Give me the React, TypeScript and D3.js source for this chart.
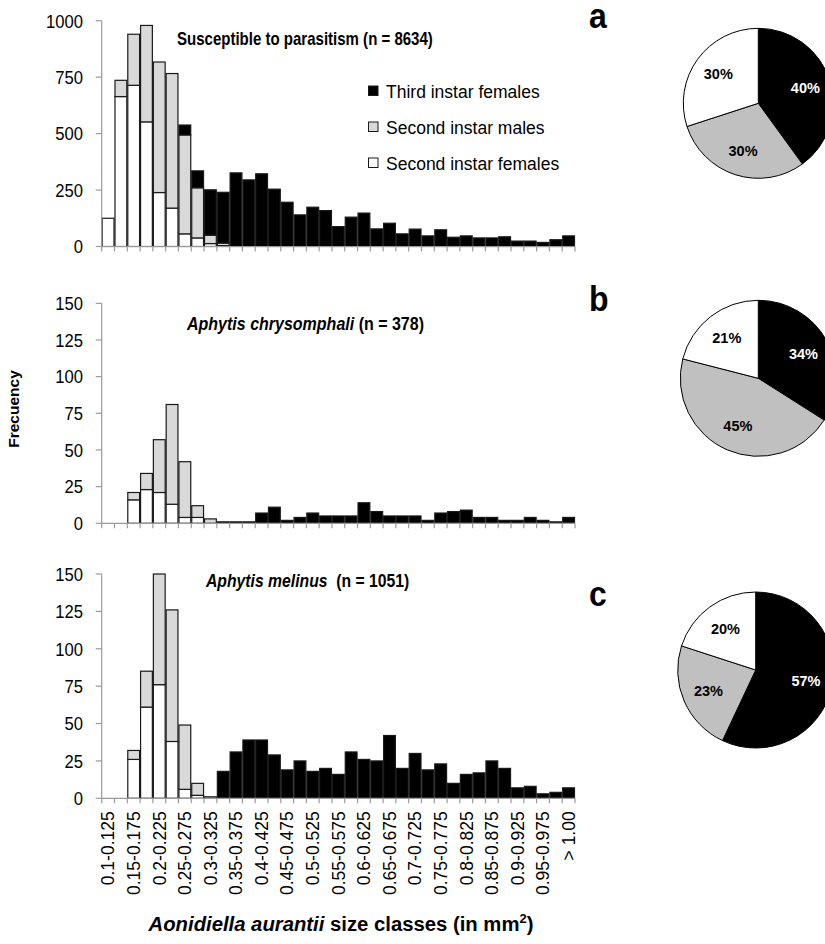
import React from "react";
import * as d3 from "d3";

const sizeClasses = [
  "0.1-0.125", "0.125-0.15", "0.15-0.175", "0.175-0.2", "0.2-0.225", "0.225-0.25",
  "0.25-0.275", "0.275-0.3", "0.3-0.325", "0.325-0.35", "0.35-0.375", "0.375-0.4",
  "0.4-0.425", "0.425-0.45", "0.45-0.475", "0.475-0.5", "0.5-0.525", "0.525-0.55",
  "0.55-0.575", "0.575-0.6", "0.6-0.625", "0.625-0.65", "0.65-0.675", "0.675-0.7",
  "0.7-0.725", "0.725-0.75", "0.75-0.775", "0.775-0.8", "0.8-0.825", "0.825-0.85",
  "0.85-0.875", "0.875-0.9", "0.9-0.925", "0.925-0.95", "0.95-0.975", "0.975-1.00",
  "> 1.00",
];

// Panel a: susceptible to parasitism
const aSecondFemales = [125, 664, 714, 552, 239, 170, 56, 38, 13, 4, 0, 0, 0, 0, 0, 0, 0, 0, 0, 0, 0, 0, 0, 0, 0, 0, 0, 0, 0, 0, 0, 0, 0, 0, 0, 0, 0];
const aSecondMales = [0, 72, 226, 427, 578, 596, 438, 222, 37, 11, 0, 0, 0, 0, 0, 0, 0, 0, 0, 0, 0, 0, 0, 0, 0, 0, 0, 0, 0, 0, 0, 0, 0, 0, 0, 0, 0];
const aThirdFemales = [0, 0, 0, 0, 0, 0, 44, 75, 201, 225, 326, 295, 322, 254, 196, 140, 174, 159, 88, 130, 148, 78, 103, 56, 77, 47, 74, 41, 47, 38, 38, 43, 24, 24, 18, 30, 47];

// Panel b: Aphytis chrysomphali
const bSecondFemales = [0, 0, 16, 23, 21, 13, 4, 4, 0, 0, 0, 0, 0, 0, 0, 0, 0, 0, 0, 0, 0, 0, 0, 0, 0, 0, 0, 0, 0, 0, 0, 0, 0, 0, 0, 0, 0];
const bSecondMales = [0, 0, 5, 11, 36, 68, 38, 8, 3, 0, 0, 0, 0, 0, 0, 0, 0, 0, 0, 0, 0, 0, 0, 0, 0, 0, 0, 0, 0, 0, 0, 0, 0, 0, 0, 0, 0];
const bThirdFemales = [0, 0, 0, 0, 0, 0, 0, 0, 0, 1, 1, 1, 7, 11, 2, 4, 7, 5, 5, 5, 14, 8, 5, 5, 5, 2, 7, 8, 9, 4, 4, 2, 2, 4, 2, 1, 4];

// Panel c: Aphytis melinus
const cSecondFemales = [0, 0, 26, 61, 76, 38, 6, 2, 1, 0, 0, 0, 0, 0, 0, 0, 0, 0, 0, 0, 0, 0, 0, 0, 0, 0, 0, 0, 0, 0, 0, 0, 0, 0, 0, 0, 0];
const cSecondMales = [0, 0, 6, 24, 74, 88, 43, 8, 0, 0, 0, 0, 0, 0, 0, 0, 0, 0, 0, 0, 0, 0, 0, 0, 0, 0, 0, 0, 0, 0, 0, 0, 0, 0, 0, 0, 0];
const cThirdFemales = [0, 0, 0, 0, 0, 0, 0, 0, 0, 18, 31, 39, 39, 29, 19, 25, 18, 20, 16, 31, 26, 25, 42, 20, 30, 19, 23, 10, 16, 17, 25, 20, 7, 8, 3, 4, 7];

// Pie shares (third instar females, second instar males, second instar females)
const pieA = [40, 30, 30];
const pieB = [34, 45, 21];
const pieC = [57, 23, 20];

const ticksA = [0, 250, 500, 750, 1000];
const ticksBC = [0, 25, 50, 75, 100, 125, 150];

const legendLabels = ["Third instar females", "Second instar males", "Second instar females"];
const panelLetters = ["a", "b", "c"];

const FONT = "'Liberation Sans', Arial, Helvetica, sans-serif";
const BAR_FILL = { f3: "#000000", m2: "#d9d9d9", f2: "#ffffff" } as Record<string, string>;
const LEGEND_FILL = ["#000000", "#d9d9d9", "#ffffff"];
const PIE_FILL = ["#000000", "#c0c0c0", "#ffffff"];
const PIE_TEXT = ["#ffffff", "#000000", "#000000"];
const AXIS = "#9a9a9a";

type PanelDef = {
  f2: number[]; m2: number[]; f3: number[];
  max: number; ticks: number[]; top: number; bottom: number;
  pie: number[]; pieCx: number; pieCy: number; pieR: number;
  letterY: number;
};

const panels: PanelDef[] = [
  { f2: aSecondFemales, m2: aSecondMales, f3: aThirdFemales, max: 1000, ticks: ticksA, top: 20.7, bottom: 246.5, pie: pieA, pieCx: 758.3, pieCy: 103.3, pieR: 75, letterY: 28 },
  { f2: bSecondFemales, m2: bSecondMales, f3: bThirdFemales, max: 150, ticks: ticksBC, top: 303.3, bottom: 523.3, pie: pieB, pieCx: 758.3, pieCy: 378.3, pieR: 78, letterY: 311 },
  { f2: cSecondFemales, m2: cSecondMales, f3: cThirdFemales, max: 150, ticks: ticksBC, top: 574, bottom: 798.3, pie: pieC, pieCx: 755.7, pieCy: 670, pieR: 78, letterY: 606 },
];

const X0 = 101.7;
const X1 = 575;

function Panel({ p, idx, x }: { p: PanelDef; idx: number; x: d3.ScaleBand<string> }) {
  const y = d3.scaleLinear().domain([0, p.max]).range([p.bottom, p.top]);
  const rows = sizeClasses.map((c, i) => ({ c, f2: p.f2[i], m2: p.m2[i], f3: p.f3[i] }));
  const stack = d3.stack<any>().keys(["f2", "m2", "f3"])(rows);
  const pie = d3.pie<number>().sort(null).value((d) => d)(p.pie);
  const arc = d3.arc<d3.PieArcDatum<number>>().innerRadius(0).outerRadius(p.pieR);
  const labelArc = d3.arc<d3.PieArcDatum<number>>().innerRadius(p.pieR * 0.66).outerRadius(p.pieR * 0.66);
  const bw = x.bandwidth();
  const boundaries = d3.range(sizeClasses.length + 1).map((i) => (i < sizeClasses.length ? (x(sizeClasses[i]) as number) : X1));

  return (
    <g>
      {stack.map((layer) => (
        <g key={layer.key}>
          {layer.map((d, i) => {
            const h = y(d[0]) - y(d[1]);
            if (h <= 0) return null;
            return (
              <rect
                key={i}
                x={(x(sizeClasses[i]) as number) + 0.5}
                y={y(d[1])}
                width={bw - 1}
                height={h}
                fill={BAR_FILL[layer.key]}
                stroke="#1a1a1a"
                strokeWidth={1.2}
              />
            );
          })}
        </g>
      ))}
      <line x1={X0} x2={X0} y1={p.top} y2={p.bottom} stroke={AXIS} strokeWidth={1.2} />
      {p.ticks.map((t) => (
        <g key={t}>
          <line x1={X0 - 6} x2={X0} y1={y(t)} y2={y(t)} stroke={AXIS} strokeWidth={1.2} />
          <text
            transform={`translate(83,${y(t)}) scale(0.95,1.08)`}
            dy="0.36em"
            textAnchor="end"
            fontSize={17.5}
            fontFamily={FONT}
            fill="#000"
          >
            {t}
          </text>
        </g>
      ))}
      <line x1={X0} x2={X1} y1={p.bottom} y2={p.bottom} stroke={AXIS} strokeWidth={1.2} />
      {boundaries.map((bx, i) => (
        <line key={i} x1={bx} x2={bx} y1={p.bottom} y2={p.bottom + 5} stroke={AXIS} strokeWidth={1.2} />
      ))}
      <text
        transform={`translate(589,${p.letterY}) scale(1,1.12)`}
        fontSize={32}
        fontWeight="bold"
        fontFamily={FONT}
        fill="#000"
      >
        {panelLetters[idx]}
      </text>
      <g transform={`translate(${p.pieCx},${p.pieCy})`}>
        {pie.map((s, i) => (
          <path key={i} d={arc(s) as string} fill={PIE_FILL[i]} stroke="#000" strokeWidth={1} />
        ))}
        {pie.map((s, i) => {
          const [lx, ly] = labelArc.centroid(s);
          return (
            <text key={"l" + i} x={lx} y={ly} dy="0.36em" textAnchor="middle" fontSize={14.5} fontWeight="bold" fontFamily={FONT} fill={PIE_TEXT[i]}>
              {s.data}%
            </text>
          );
        })}
      </g>
    </g>
  );
}

export default function App() {
  const x = d3.scaleBand<string>().domain(sizeClasses).range([X0, X1]).paddingInner(0).paddingOuter(0);
  const pc = panels[2];
  return (
    <svg
      width={825}
      height={944}
      viewBox="0 0 825 944"
      style={{ position: "absolute", left: 0, top: 0, display: "block", background: "#fff" }}
    >
      <rect x={0} y={0} width={825} height={944} fill="#fff" />
      {panels.map((p, i) => (
        <Panel key={i} p={p} idx={i} x={x} />
      ))}

      {/* titles */}
      <text transform="translate(177,45) scale(0.835,1.05)" fontSize={18} fontWeight="bold" fontFamily={FONT}>
        Susceptible to parasitism (n = 8634)
      </text>
      <text transform="translate(187,330) scale(0.89,1.05)" fontSize={18} fontWeight="bold" fontFamily={FONT}>
        <tspan fontStyle="italic">Aphytis chrysomphali</tspan>
        <tspan> (n = 378)</tspan>
      </text>
      <text transform="translate(206,587) scale(0.875,1.05)" fontSize={18} fontWeight="bold" fontFamily={FONT}>
        <tspan fontStyle="italic">Aphytis melinus</tspan>
        <tspan dx={5}> (n = 1051)</tspan>
      </text>

      {/* legend */}
      {legendLabels.map((l, i) => (
        <g key={l} transform={`translate(368,${86 + i * 36})`}>
          <rect x={0.5} y={0} width={9.5} height={9.5} fill={LEGEND_FILL[i]} stroke="#1a1a1a" strokeWidth={1} />
          <text x={18} y={11.5} fontSize={17.5} fontFamily={FONT} fill="#000">
            {l}
          </text>
        </g>
      ))}

      {/* x tick labels */}
      {sizeClasses.map((c, i) =>
        i % 2 === 0 ? (
          <text
            key={c}
            transform={`translate(${(x(c) as number) + x.bandwidth() / 2},${pc.bottom + 13}) rotate(-90)`}
            textAnchor="end"
            dy="0.36em"
            fontSize={17.5}
            fontFamily={FONT}
            fill="#000"
          >
            {c}
          </text>
        ) : null
      )}

      {/* axis titles */}
      <text transform="translate(13,409) rotate(-90)" textAnchor="middle" dy="0.36em" fontSize={15.5} fontWeight="bold" fontFamily={FONT}>
        Frecuency
      </text>
      <text x={341} y={931} textAnchor="middle" fontSize={20.3} fontWeight="bold" fontFamily={FONT}>
        <tspan fontStyle="italic">Aonidiella aurantii</tspan>
        <tspan> size classes (in mm</tspan>
        <tspan fontSize={13} dy={-8}>2</tspan>
        <tspan dy={8}>)</tspan>
      </text>
    </svg>
  );
}
